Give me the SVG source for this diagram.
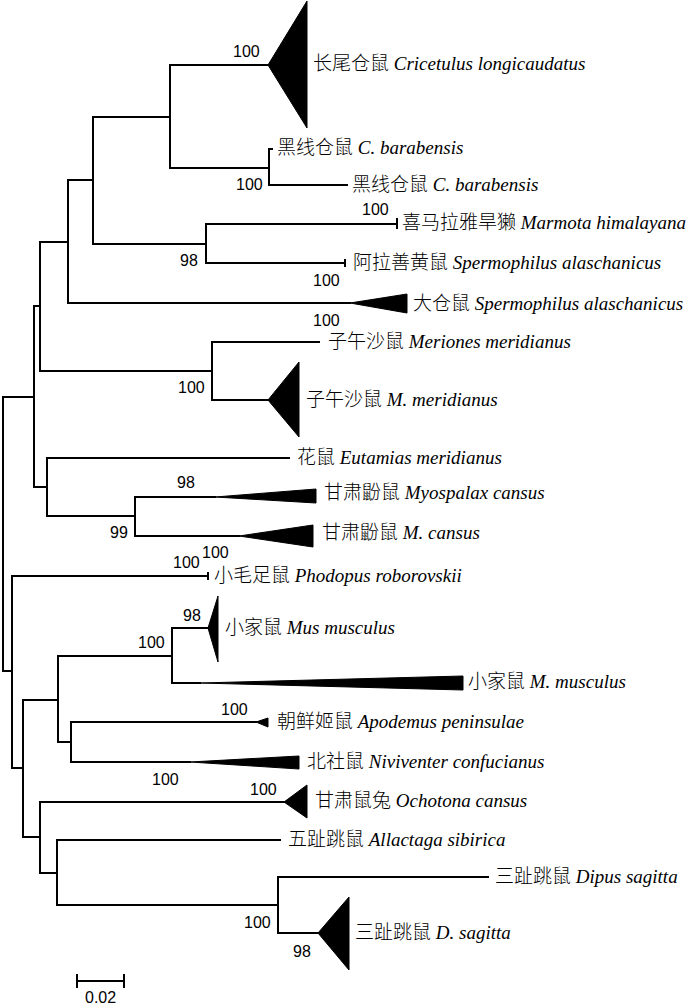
<svg xmlns="http://www.w3.org/2000/svg" width="700" height="1005" viewBox="0 0 700 1005">
<style>
.br{fill:none;stroke:#000;stroke-width:2;stroke-linecap:square}
.tri{fill:#000;stroke:#000;stroke-width:1}
.lab{font-family:'Liberation Serif','Noto Sans CJK SC',serif;font-size:19px;fill:#000}
.cjk{font-family:'Noto Sans CJK SC',sans-serif;font-weight:300}
.sp{font-family:'Liberation Serif','Times New Roman',serif;font-style:italic}
.bs{font-family:'Liberation Sans',Arial,sans-serif;font-size:16px;fill:#000}
</style>
<rect width="700" height="1005" fill="#fff"/>
<g id="connectors" class="br">
<path d="M3,397V671"/>
<path d="M3,397H34M34,306V487"/>
<path d="M34,306H40M40,242V371"/>
<path d="M40,242H68M68,180V303"/>
<path d="M68,180H93M93,117V244"/>
<path d="M93,117H170M170,65V168"/>
<path d="M170,65H268"/>
<path d="M170,168H269M269,149V185"/>
<path d="M269,149H272M269,185H347"/>
<path d="M93,244H206M206,224V263"/>
<path d="M206,224H397M397,219V228"/>
<path d="M206,263H345M345,260V266"/>
<path d="M68,303H350"/>
<path d="M40,371H212M212,342V400"/>
<path d="M212,342H319M212,400H268"/>
<path d="M34,487H47M47,458V516"/>
<path d="M47,458H289"/>
<path d="M47,516H135M135,497V536"/>
<path d="M135,497H215M135,536H239"/>
<path d="M3,671H12M12,576V768"/>
<path d="M12,576H208M208,573V579"/>
<path d="M12,768H23M23,700V837"/>
<path d="M23,700H58M58,656V742"/>
<path d="M58,656H172M172,628V683"/>
<path d="M172,628H208M172,683H200"/>
<path d="M58,742H71M71,722V762"/>
<path d="M71,722H256M71,762H190"/>
<path d="M23,837H40M40,802V873"/>
<path d="M40,802H284"/>
<path d="M40,873H57M57,840V905"/>
<path d="M57,840H280"/>
<path d="M57,905H278M278,877V933"/>
<path d="M278,877H488M278,933H318"/>
</g>
<g id="node-1"><polygon class="tri" points="268,65 307,1 307,128"/><text class="lab" x="313" y="70"><tspan class="cjk">长尾仓鼠</tspan> <tspan class="sp">Cricetulus longicaudatus</tspan></text></g>
<g id="node-2"><text class="lab" x="277" y="154"><tspan class="cjk">黑线仓鼠</tspan> <tspan class="sp">C. barabensis</tspan></text></g>
<g id="node-3"><text class="lab" x="352" y="191"><tspan class="cjk">黑线仓鼠</tspan> <tspan class="sp">C. barabensis</tspan></text></g>
<g id="node-4"><text class="lab" x="402" y="229"><tspan class="cjk">喜马拉雅旱獭</tspan> <tspan class="sp">Marmota himalayana</tspan></text></g>
<g id="node-5"><text class="lab" x="353" y="269"><tspan class="cjk">阿拉善黄鼠</tspan> <tspan class="sp">Spermophilus alaschanicus</tspan></text></g>
<g id="node-6"><polygon class="tri" points="350,303 407,294 407,313"/><text class="lab" x="413" y="310"><tspan class="cjk">大仓鼠</tspan> <tspan class="sp">Spermophilus alaschanicus</tspan></text></g>
<g id="node-7"><text class="lab" x="328" y="348"><tspan class="cjk">子午沙鼠</tspan> <tspan class="sp">Meriones meridianus</tspan></text></g>
<g id="node-8"><polygon class="tri" points="268,400 299,362 299,437"/><text class="lab" x="306" y="406"><tspan class="cjk">子午沙鼠</tspan> <tspan class="sp">M. meridianus</tspan></text></g>
<g id="node-9"><text class="lab" x="297" y="464"><tspan class="cjk">花鼠</tspan> <tspan class="sp">Eutamias meridianus</tspan></text></g>
<g id="node-10"><polygon class="tri" points="215,497 316,489 316,503"/><text class="lab" x="324" y="499"><tspan class="cjk">甘肃鼢鼠</tspan> <tspan class="sp">Myospalax cansus</tspan></text></g>
<g id="node-11"><polygon class="tri" points="239,536 313,525 313,547"/><text class="lab" x="322" y="539"><tspan class="cjk">甘肃鼢鼠</tspan> <tspan class="sp">M. cansus</tspan></text></g>
<g id="node-12"><text class="lab" x="214" y="582"><tspan class="cjk">小毛足鼠</tspan> <tspan class="sp">Phodopus roborovskii</tspan></text></g>
<g id="node-13"><polygon class="tri" points="208,628 218,596 218,662"/><text class="lab" x="225" y="634"><tspan class="cjk">小家鼠</tspan> <tspan class="sp">Mus musculus</tspan></text></g>
<g id="node-14"><polygon class="tri" points="200,683 463,676 463,690"/><text class="lab" x="468" y="688"><tspan class="cjk">小家鼠</tspan> <tspan class="sp">M. musculus</tspan></text></g>
<g id="node-15"><polygon class="tri" points="256,722 268,718 268,727"/><text class="lab" x="277" y="728"><tspan class="cjk">朝鲜姬鼠</tspan> <tspan class="sp">Apodemus peninsulae</tspan></text></g>
<g id="node-16"><polygon class="tri" points="190,762 299,756 299,769"/><text class="lab" x="307" y="768"><tspan class="cjk">北社鼠</tspan> <tspan class="sp">Niviventer confucianus</tspan></text></g>
<g id="node-17"><polygon class="tri" points="284,802 307,785 307,818"/><text class="lab" x="315" y="807"><tspan class="cjk">甘肃鼠兔</tspan> <tspan class="sp">Ochotona cansus</tspan></text></g>
<g id="node-18"><text class="lab" x="288" y="846"><tspan class="cjk">五趾跳鼠</tspan> <tspan class="sp">Allactaga sibirica</tspan></text></g>
<g id="node-19"><text class="lab" x="495" y="883"><tspan class="cjk">三趾跳鼠</tspan> <tspan class="sp">Dipus sagitta</tspan></text></g>
<g id="node-20"><polygon class="tri" points="318,933 349,897 349,970"/><text class="lab" x="355" y="939"><tspan class="cjk">三趾跳鼠</tspan> <tspan class="sp">D. sagitta</tspan></text></g>
<g id="bootstrap" class="bs">
<text x="233" y="57">100</text>
<text x="236" y="190">100</text>
<text x="362" y="215">100</text>
<text x="180" y="266">98</text>
<text x="313" y="286">100</text>
<text x="313" y="326">100</text>
<text x="178" y="393">100</text>
<text x="177" y="488">98</text>
<text x="110" y="538">99</text>
<text x="202" y="558">100</text>
<text x="173" y="568">100</text>
<text x="183" y="621">98</text>
<text x="138" y="648">100</text>
<text x="221" y="715">100</text>
<text x="152" y="785">100</text>
<text x="250" y="795">100</text>
<text x="244" y="928">100</text>
<text x="293" y="957">98</text>
</g>
<g id="scale-bar">
<path class="br" d="M77,981H124M77,975V987M124,975V987"/>
<text class="bs" x="85" y="1003">0.02</text>
</g>
</svg>
